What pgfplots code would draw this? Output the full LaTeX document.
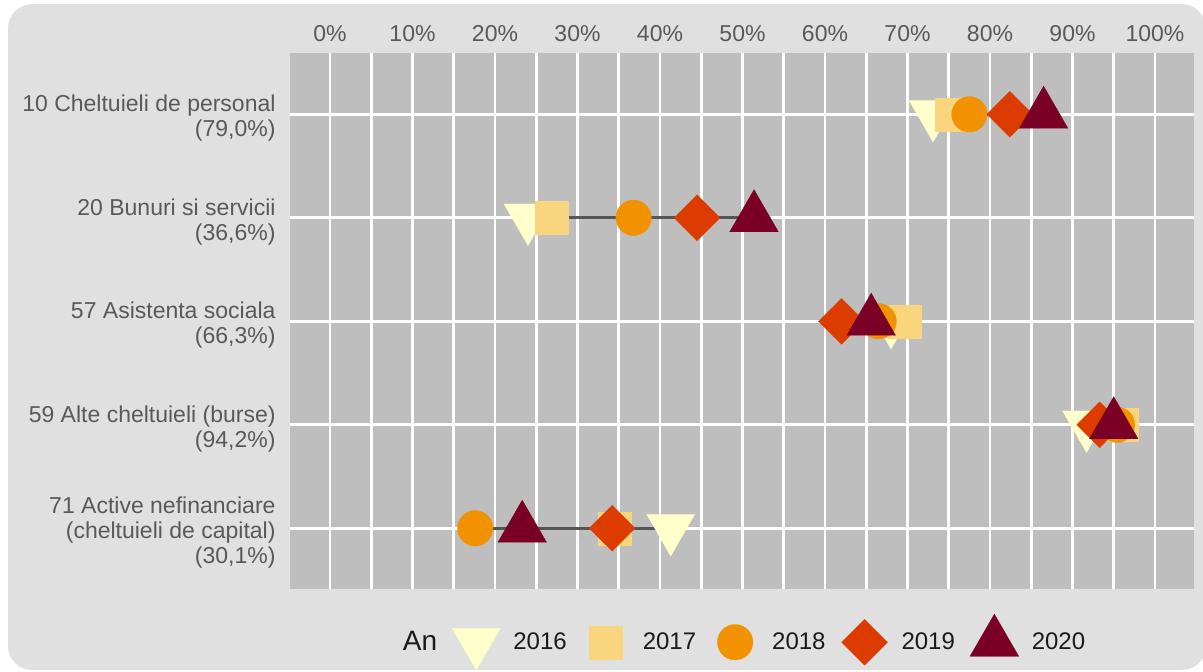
\documentclass[border=0pt]{standalone}
\usepackage{fontspec}
\setmainfont{Liberation Sans}
\usepackage{pgfplots}
\pgfplotsset{compat=1.18}
\definecolor{panelbg}{HTML}{E0E0E0}
\definecolor{plotbg}{HTML}{BEBEBE}
\definecolor{labelgray}{HTML}{595959}
\definecolor{legtext}{HTML}{1A1A1A}
\definecolor{linegray}{HTML}{555555}
\definecolor{c16}{HTML}{FFFFCC}
\definecolor{c17}{HTML}{F9D57E}
\definecolor{c18}{HTML}{F39200}
\definecolor{c19}{HTML}{DD3C00}
\definecolor{c20}{HTML}{7A0026}
\pgfplotsset{myleg/.style={legend image code/.code={\path[draw=none,fill=none] (-12pt,-12pt) (12pt,12pt); \draw[##1] plot coordinates {(0pt,0pt)};}}}
\begin{document}
\begin{tikzpicture}
\useasboundingbox (0,0) rectangle (601.5pt,335.5pt);
\fill[panelbg, rounded corners=12pt] (4pt,0.5pt) rectangle (603pt,333.4pt);
\begin{axis}[
  at={(145pt,40.85pt)}, anchor=south west,
  width=452pt, height=268.3pt, scale only axis,
  xmin=-4.85, xmax=104.73,
  ymin=0.405, ymax=5.59, y dir=reverse,
  xtick={0,10,...,100},
  xticklabels={0\%,10\%,20\%,30\%,40\%,50\%,60\%,70\%,80\%,90\%,100\%},
  minor xtick={5,15,...,95},
  xticklabel pos=upper,
  ytick={1,2,3,4,5},
  yticklabels={{10 Cheltuieli de personal\\(79,0\%)},{20 Bunuri si servicii\\(36,6\%)},{57 Asistenta sociala\\(66,3\%)},{59 Alte cheltuieli (burse)\\(94,2\%)},{71 Active nefinanciare\\(cheltuieli de capital)\\(30,1\%)}},
  xmajorgrids, xminorgrids, ymajorgrids,
  grid style={white, line width=1.3pt},
  minor grid style={white, line width=1.3pt},
  major tick length=0pt, minor tick length=0pt,
  tick style={draw=none},
  axis line style={draw=none},
  axis background/.style={fill=plotbg},
  tick label style={font=\fontsize{11.5}{12.5}\selectfont, text=labelgray},
  yticklabel style={align=right, xshift=-3.7pt, yshift=-2pt},
  xticklabel style={yshift=2pt},
  clip=false,
  legend columns=-1,
  legend style={
    at={(0.1106,-0.0982)}, anchor=west,
    draw=none, fill=none, inner sep=0pt, outer sep=0pt,
    font=\fontsize{12}{14}\selectfont, text=legtext,
    nodes={inner sep=0pt},
    /tikz/every odd column/.append style={column sep=6.5pt},
    /tikz/every even column/.append style={column sep=7.5pt},
  },
]
% connecting lines (min to max per row)
\addplot[linegray, line width=1.5pt, forget plot] coordinates {(73.1,1) (86.5,1)};
\addplot[linegray, line width=1.5pt, forget plot] coordinates {(24.0,2) (51.4,2)};
\addplot[linegray, line width=1.5pt, forget plot] coordinates {(62.0,3) (69.6,3)};
\addplot[linegray, line width=1.5pt, forget plot] coordinates {(91.7,4) (95.9,4)};
\addplot[linegray, line width=1.5pt, forget plot] coordinates {(17.6,5) (41.3,5)};

\addlegendimage{empty legend}
\addlegendentry{\fontsize{14}{16}\selectfont An}

\addplot[only marks, myleg, mark=triangle*, mark size=13.9pt, mark options={rotate=180, fill=c16, draw=c16, line width=0.1pt}]
  coordinates {(73.1,1) (24.0,2) (68.0,3) (91.7,4) (41.3,5)};
\addlegendentry{2016}
\addplot[only marks, myleg, mark=square*, mark size=8.25pt, mark options={fill=c17, draw=c17, line width=0.1pt}]
  coordinates {(75.3,1) (26.8,2) (69.6,3) (95.9,4) (34.5,5)};
\addlegendentry{2017}
\addplot[only marks, myleg, mark=*, mark size=8.9pt, mark options={fill=c18, draw=c18, line width=0.1pt}]
  coordinates {(77.5,1) (36.8,2) (66.5,3) (95.4,4) (17.6,5)};
\addlegendentry{2018}
\addplot[only marks, myleg, mark=square*, mark size=8.13pt, mark options={rotate=45, fill=c19, draw=c19, line width=0.1pt}]
  coordinates {(82.4,1) (44.5,2) (62.0,3) (93.3,4) (34.2,5)};
\addlegendentry{2019}
\addplot[only marks, myleg, mark=triangle*, mark size=14.1pt, mark options={fill=c20, draw=c20, line width=0.1pt}]
  coordinates {(86.5,1) (51.4,2) (65.6,3) (95.0,4) (23.3,5)};
\addlegendentry{2020}
\end{axis}
\end{tikzpicture}
\end{document}
